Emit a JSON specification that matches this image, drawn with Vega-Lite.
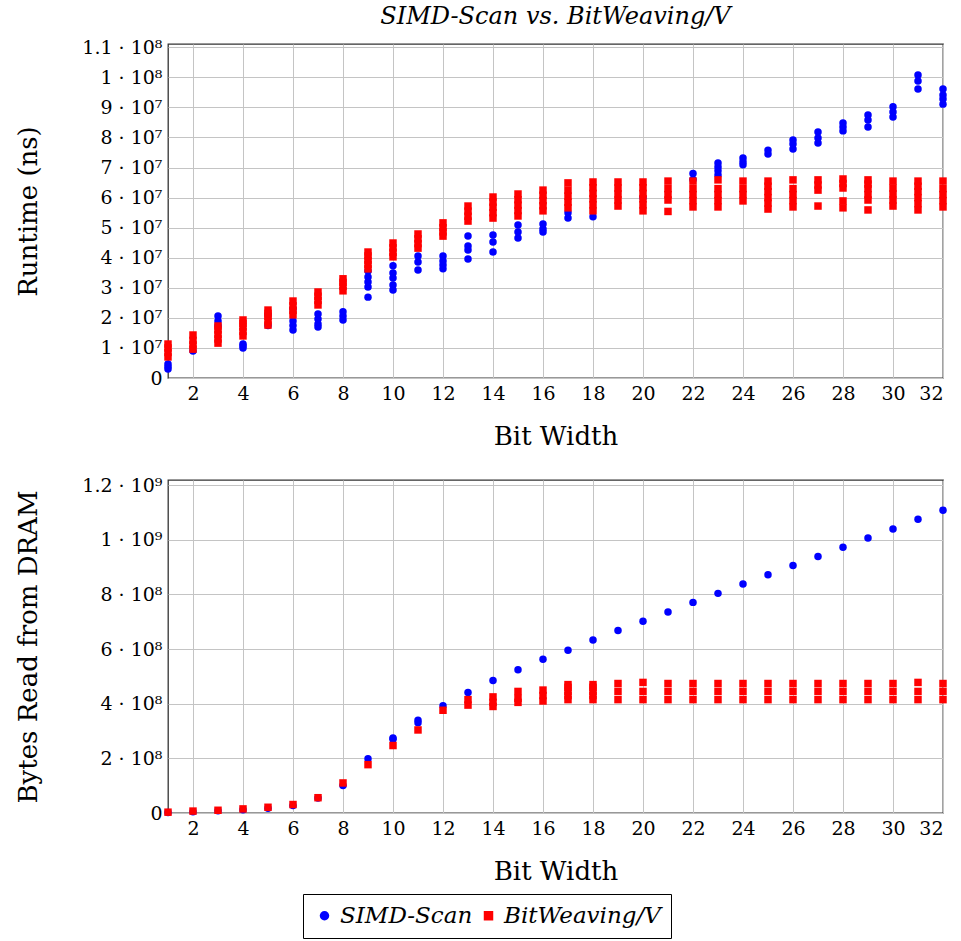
{
  "$schema": "https://vega.github.io/schema/vega-lite/v6.json",
  "background": "white",
  "padding": {"left": 15, "top": 4, "right": 10, "bottom": 0},
  "config": {
    "font": "DejaVu Serif",
    "view": {"stroke": "#333333", "strokeWidth": 1.3},
    "axis": {
      "labelFont": "DejaVu Serif",
      "titleFont": "DejaVu Serif",
      "labelFontSize": 19,
      "titleFontSize": 26,
      "titleFontWeight": "normal",
      "labelColor": "black",
      "titleColor": "black",
      "gridColor": "#c4c4c4",
      "gridWidth": 1,
      "domain": false,
      "ticks": false
    },
    "legend": {
      "labelFont": "DejaVu Serif",
      "labelFontSize": 23,
      "labelFontStyle": "italic",
      "labelColor": "black"
    }
  },
  "datasets": {
    "runtime": [
      {"bw": 1, "method": "SIMD-Scan", "ns": 3.0e6}, {"bw": 1, "method": "SIMD-Scan", "ns": 3.8e6}, {"bw": 1, "method": "SIMD-Scan", "ns": 4.7e6},
      {"bw": 2, "method": "SIMD-Scan", "ns": 9.0e6},
      {"bw": 3, "method": "SIMD-Scan", "ns": 1.75e7}, {"bw": 3, "method": "SIMD-Scan", "ns": 1.9e7}, {"bw": 3, "method": "SIMD-Scan", "ns": 2.06e7},
      {"bw": 4, "method": "SIMD-Scan", "ns": 1.0e7}, {"bw": 4, "method": "SIMD-Scan", "ns": 1.07e7}, {"bw": 4, "method": "SIMD-Scan", "ns": 1.13e7},
      {"bw": 5, "method": "SIMD-Scan", "ns": 1.75e7}, {"bw": 5, "method": "SIMD-Scan", "ns": 2.1e7},
      {"bw": 6, "method": "SIMD-Scan", "ns": 1.6e7}, {"bw": 6, "method": "SIMD-Scan", "ns": 1.75e7}, {"bw": 6, "method": "SIMD-Scan", "ns": 1.9e7}, {"bw": 6, "method": "SIMD-Scan", "ns": 2.3e7},
      {"bw": 7, "method": "SIMD-Scan", "ns": 1.7e7}, {"bw": 7, "method": "SIMD-Scan", "ns": 1.8e7}, {"bw": 7, "method": "SIMD-Scan", "ns": 1.96e7}, {"bw": 7, "method": "SIMD-Scan", "ns": 2.13e7},
      {"bw": 8, "method": "SIMD-Scan", "ns": 1.93e7}, {"bw": 8, "method": "SIMD-Scan", "ns": 2.06e7}, {"bw": 8, "method": "SIMD-Scan", "ns": 2.2e7},
      {"bw": 9, "method": "SIMD-Scan", "ns": 2.69e7}, {"bw": 9, "method": "SIMD-Scan", "ns": 3.03e7}, {"bw": 9, "method": "SIMD-Scan", "ns": 3.19e7}, {"bw": 9, "method": "SIMD-Scan", "ns": 3.36e7}, {"bw": 9, "method": "SIMD-Scan", "ns": 3.56e7},
      {"bw": 10, "method": "SIMD-Scan", "ns": 2.93e7}, {"bw": 10, "method": "SIMD-Scan", "ns": 3.09e7}, {"bw": 10, "method": "SIMD-Scan", "ns": 3.33e7}, {"bw": 10, "method": "SIMD-Scan", "ns": 3.49e7}, {"bw": 10, "method": "SIMD-Scan", "ns": 3.73e7},
      {"bw": 11, "method": "SIMD-Scan", "ns": 3.59e7}, {"bw": 11, "method": "SIMD-Scan", "ns": 3.86e7}, {"bw": 11, "method": "SIMD-Scan", "ns": 4.06e7},
      {"bw": 12, "method": "SIMD-Scan", "ns": 3.63e7}, {"bw": 12, "method": "SIMD-Scan", "ns": 3.76e7}, {"bw": 12, "method": "SIMD-Scan", "ns": 3.89e7}, {"bw": 12, "method": "SIMD-Scan", "ns": 4.06e7},
      {"bw": 13, "method": "SIMD-Scan", "ns": 3.96e7}, {"bw": 13, "method": "SIMD-Scan", "ns": 4.26e7}, {"bw": 13, "method": "SIMD-Scan", "ns": 4.39e7}, {"bw": 13, "method": "SIMD-Scan", "ns": 4.72e7},
      {"bw": 14, "method": "SIMD-Scan", "ns": 4.19e7}, {"bw": 14, "method": "SIMD-Scan", "ns": 4.52e7}, {"bw": 14, "method": "SIMD-Scan", "ns": 4.76e7},
      {"bw": 15, "method": "SIMD-Scan", "ns": 4.66e7}, {"bw": 15, "method": "SIMD-Scan", "ns": 4.86e7}, {"bw": 15, "method": "SIMD-Scan", "ns": 5.09e7},
      {"bw": 16, "method": "SIMD-Scan", "ns": 4.86e7}, {"bw": 16, "method": "SIMD-Scan", "ns": 4.96e7}, {"bw": 16, "method": "SIMD-Scan", "ns": 5.12e7},
      {"bw": 17, "method": "SIMD-Scan", "ns": 5.32e7}, {"bw": 17, "method": "SIMD-Scan", "ns": 5.5e7},
      {"bw": 18, "method": "SIMD-Scan", "ns": 5.36e7},
      {"bw": 20, "method": "SIMD-Scan", "ns": 6.0e7},
      {"bw": 22, "method": "SIMD-Scan", "ns": 6.6e7}, {"bw": 22, "method": "SIMD-Scan", "ns": 6.8e7},
      {"bw": 23, "method": "SIMD-Scan", "ns": 6.75e7}, {"bw": 23, "method": "SIMD-Scan", "ns": 6.89e7}, {"bw": 23, "method": "SIMD-Scan", "ns": 7.02e7}, {"bw": 23, "method": "SIMD-Scan", "ns": 7.15e7},
      {"bw": 24, "method": "SIMD-Scan", "ns": 7.09e7}, {"bw": 24, "method": "SIMD-Scan", "ns": 7.19e7}, {"bw": 24, "method": "SIMD-Scan", "ns": 7.32e7},
      {"bw": 25, "method": "SIMD-Scan", "ns": 7.45e7}, {"bw": 25, "method": "SIMD-Scan", "ns": 7.58e7},
      {"bw": 26, "method": "SIMD-Scan", "ns": 7.62e7}, {"bw": 26, "method": "SIMD-Scan", "ns": 7.78e7}, {"bw": 26, "method": "SIMD-Scan", "ns": 7.92e7},
      {"bw": 27, "method": "SIMD-Scan", "ns": 7.82e7}, {"bw": 27, "method": "SIMD-Scan", "ns": 7.98e7}, {"bw": 27, "method": "SIMD-Scan", "ns": 8.18e7},
      {"bw": 28, "method": "SIMD-Scan", "ns": 8.22e7}, {"bw": 28, "method": "SIMD-Scan", "ns": 8.35e7}, {"bw": 28, "method": "SIMD-Scan", "ns": 8.48e7},
      {"bw": 29, "method": "SIMD-Scan", "ns": 8.35e7}, {"bw": 29, "method": "SIMD-Scan", "ns": 8.58e7}, {"bw": 29, "method": "SIMD-Scan", "ns": 8.75e7},
      {"bw": 30, "method": "SIMD-Scan", "ns": 8.68e7}, {"bw": 30, "method": "SIMD-Scan", "ns": 8.85e7}, {"bw": 30, "method": "SIMD-Scan", "ns": 9.02e7},
      {"bw": 31, "method": "SIMD-Scan", "ns": 9.61e7}, {"bw": 31, "method": "SIMD-Scan", "ns": 9.88e7}, {"bw": 31, "method": "SIMD-Scan", "ns": 1.008e8},
      {"bw": 32, "method": "SIMD-Scan", "ns": 9.11e7}, {"bw": 32, "method": "SIMD-Scan", "ns": 9.28e7}, {"bw": 32, "method": "SIMD-Scan", "ns": 9.41e7}, {"bw": 32, "method": "SIMD-Scan", "ns": 9.61e7},

      {"bw": 1, "method": "BitWeaving/V", "ns": 7.0e6}, {"bw": 1, "method": "BitWeaving/V", "ns": 8.5e6}, {"bw": 1, "method": "BitWeaving/V", "ns": 1.0e7}, {"bw": 1, "method": "BitWeaving/V", "ns": 1.13e7},
      {"bw": 2, "method": "BitWeaving/V", "ns": 9.6e6}, {"bw": 2, "method": "BitWeaving/V", "ns": 1.1e7}, {"bw": 2, "method": "BitWeaving/V", "ns": 1.25e7}, {"bw": 2, "method": "BitWeaving/V", "ns": 1.43e7},
      {"bw": 3, "method": "BitWeaving/V", "ns": 1.16e7}, {"bw": 3, "method": "BitWeaving/V", "ns": 1.3e7}, {"bw": 3, "method": "BitWeaving/V", "ns": 1.45e7}, {"bw": 3, "method": "BitWeaving/V", "ns": 1.6e7}, {"bw": 3, "method": "BitWeaving/V", "ns": 1.73e7},
      {"bw": 4, "method": "BitWeaving/V", "ns": 1.4e7}, {"bw": 4, "method": "BitWeaving/V", "ns": 1.55e7}, {"bw": 4, "method": "BitWeaving/V", "ns": 1.7e7}, {"bw": 4, "method": "BitWeaving/V", "ns": 1.82e7}, {"bw": 4, "method": "BitWeaving/V", "ns": 1.93e7},
      {"bw": 5, "method": "BitWeaving/V", "ns": 1.76e7}, {"bw": 5, "method": "BitWeaving/V", "ns": 1.9e7}, {"bw": 5, "method": "BitWeaving/V", "ns": 2.05e7}, {"bw": 5, "method": "BitWeaving/V", "ns": 2.15e7}, {"bw": 5, "method": "BitWeaving/V", "ns": 2.26e7},
      {"bw": 6, "method": "BitWeaving/V", "ns": 2.1e7}, {"bw": 6, "method": "BitWeaving/V", "ns": 2.25e7}, {"bw": 6, "method": "BitWeaving/V", "ns": 2.4e7}, {"bw": 6, "method": "BitWeaving/V", "ns": 2.56e7},
      {"bw": 7, "method": "BitWeaving/V", "ns": 2.43e7}, {"bw": 7, "method": "BitWeaving/V", "ns": 2.58e7}, {"bw": 7, "method": "BitWeaving/V", "ns": 2.72e7}, {"bw": 7, "method": "BitWeaving/V", "ns": 2.86e7},
      {"bw": 8, "method": "BitWeaving/V", "ns": 2.9e7}, {"bw": 8, "method": "BitWeaving/V", "ns": 3.05e7}, {"bw": 8, "method": "BitWeaving/V", "ns": 3.18e7}, {"bw": 8, "method": "BitWeaving/V", "ns": 3.3e7},
      {"bw": 9, "method": "BitWeaving/V", "ns": 3.63e7}, {"bw": 9, "method": "BitWeaving/V", "ns": 3.78e7}, {"bw": 9, "method": "BitWeaving/V", "ns": 3.92e7}, {"bw": 9, "method": "BitWeaving/V", "ns": 4.06e7}, {"bw": 9, "method": "BitWeaving/V", "ns": 4.19e7},
      {"bw": 10, "method": "BitWeaving/V", "ns": 4.03e7}, {"bw": 10, "method": "BitWeaving/V", "ns": 4.18e7}, {"bw": 10, "method": "BitWeaving/V", "ns": 4.33e7}, {"bw": 10, "method": "BitWeaving/V", "ns": 4.49e7},
      {"bw": 11, "method": "BitWeaving/V", "ns": 4.32e7}, {"bw": 11, "method": "BitWeaving/V", "ns": 4.47e7}, {"bw": 11, "method": "BitWeaving/V", "ns": 4.63e7}, {"bw": 11, "method": "BitWeaving/V", "ns": 4.79e7},
      {"bw": 12, "method": "BitWeaving/V", "ns": 4.72e7}, {"bw": 12, "method": "BitWeaving/V", "ns": 4.86e7}, {"bw": 12, "method": "BitWeaving/V", "ns": 5.0e7}, {"bw": 12, "method": "BitWeaving/V", "ns": 5.16e7},
      {"bw": 13, "method": "BitWeaving/V", "ns": 5.22e7}, {"bw": 13, "method": "BitWeaving/V", "ns": 5.38e7}, {"bw": 13, "method": "BitWeaving/V", "ns": 5.55e7}, {"bw": 13, "method": "BitWeaving/V", "ns": 5.72e7},
      {"bw": 14, "method": "BitWeaving/V", "ns": 5.32e7}, {"bw": 14, "method": "BitWeaving/V", "ns": 5.5e7}, {"bw": 14, "method": "BitWeaving/V", "ns": 5.68e7}, {"bw": 14, "method": "BitWeaving/V", "ns": 5.85e7}, {"bw": 14, "method": "BitWeaving/V", "ns": 6.02e7},
      {"bw": 15, "method": "BitWeaving/V", "ns": 5.39e7}, {"bw": 15, "method": "BitWeaving/V", "ns": 5.57e7}, {"bw": 15, "method": "BitWeaving/V", "ns": 5.75e7}, {"bw": 15, "method": "BitWeaving/V", "ns": 5.93e7}, {"bw": 15, "method": "BitWeaving/V", "ns": 6.12e7},
      {"bw": 16, "method": "BitWeaving/V", "ns": 5.56e7}, {"bw": 16, "method": "BitWeaving/V", "ns": 5.73e7}, {"bw": 16, "method": "BitWeaving/V", "ns": 5.9e7}, {"bw": 16, "method": "BitWeaving/V", "ns": 6.08e7}, {"bw": 16, "method": "BitWeaving/V", "ns": 6.25e7},
      {"bw": 17, "method": "BitWeaving/V", "ns": 5.66e7}, {"bw": 17, "method": "BitWeaving/V", "ns": 5.85e7}, {"bw": 17, "method": "BitWeaving/V", "ns": 6.05e7}, {"bw": 17, "method": "BitWeaving/V", "ns": 6.25e7}, {"bw": 17, "method": "BitWeaving/V", "ns": 6.49e7},
      {"bw": 18, "method": "BitWeaving/V", "ns": 5.56e7}, {"bw": 18, "method": "BitWeaving/V", "ns": 5.76e7}, {"bw": 18, "method": "BitWeaving/V", "ns": 5.96e7}, {"bw": 18, "method": "BitWeaving/V", "ns": 6.14e7}, {"bw": 18, "method": "BitWeaving/V", "ns": 6.33e7}, {"bw": 18, "method": "BitWeaving/V", "ns": 6.52e7},
      {"bw": 19, "method": "BitWeaving/V", "ns": 5.72e7}, {"bw": 19, "method": "BitWeaving/V", "ns": 5.92e7}, {"bw": 19, "method": "BitWeaving/V", "ns": 6.12e7}, {"bw": 19, "method": "BitWeaving/V", "ns": 6.32e7}, {"bw": 19, "method": "BitWeaving/V", "ns": 6.52e7},
      {"bw": 20, "method": "BitWeaving/V", "ns": 5.56e7}, {"bw": 20, "method": "BitWeaving/V", "ns": 5.76e7}, {"bw": 20, "method": "BitWeaving/V", "ns": 5.96e7}, {"bw": 20, "method": "BitWeaving/V", "ns": 6.14e7}, {"bw": 20, "method": "BitWeaving/V", "ns": 6.33e7}, {"bw": 20, "method": "BitWeaving/V", "ns": 6.52e7},
      {"bw": 21, "method": "BitWeaving/V", "ns": 5.54e7}, {"bw": 21, "method": "BitWeaving/V", "ns": 5.92e7}, {"bw": 21, "method": "BitWeaving/V", "ns": 6.1e7}, {"bw": 21, "method": "BitWeaving/V", "ns": 6.3e7}, {"bw": 21, "method": "BitWeaving/V", "ns": 6.55e7},
      {"bw": 22, "method": "BitWeaving/V", "ns": 5.69e7}, {"bw": 22, "method": "BitWeaving/V", "ns": 5.9e7}, {"bw": 22, "method": "BitWeaving/V", "ns": 6.1e7}, {"bw": 22, "method": "BitWeaving/V", "ns": 6.3e7}, {"bw": 22, "method": "BitWeaving/V", "ns": 6.55e7},
      {"bw": 23, "method": "BitWeaving/V", "ns": 5.69e7}, {"bw": 23, "method": "BitWeaving/V", "ns": 5.9e7}, {"bw": 23, "method": "BitWeaving/V", "ns": 6.1e7}, {"bw": 23, "method": "BitWeaving/V", "ns": 6.3e7}, {"bw": 23, "method": "BitWeaving/V", "ns": 6.59e7},
      {"bw": 24, "method": "BitWeaving/V", "ns": 5.89e7}, {"bw": 24, "method": "BitWeaving/V", "ns": 6.1e7}, {"bw": 24, "method": "BitWeaving/V", "ns": 6.3e7}, {"bw": 24, "method": "BitWeaving/V", "ns": 6.55e7},
      {"bw": 25, "method": "BitWeaving/V", "ns": 5.62e7}, {"bw": 25, "method": "BitWeaving/V", "ns": 5.82e7}, {"bw": 25, "method": "BitWeaving/V", "ns": 6.0e7}, {"bw": 25, "method": "BitWeaving/V", "ns": 6.2e7}, {"bw": 25, "method": "BitWeaving/V", "ns": 6.38e7}, {"bw": 25, "method": "BitWeaving/V", "ns": 6.55e7},
      {"bw": 26, "method": "BitWeaving/V", "ns": 5.69e7}, {"bw": 26, "method": "BitWeaving/V", "ns": 5.9e7}, {"bw": 26, "method": "BitWeaving/V", "ns": 6.1e7}, {"bw": 26, "method": "BitWeaving/V", "ns": 6.3e7}, {"bw": 26, "method": "BitWeaving/V", "ns": 6.59e7},
      {"bw": 27, "method": "BitWeaving/V", "ns": 5.72e7}, {"bw": 27, "method": "BitWeaving/V", "ns": 6.25e7}, {"bw": 27, "method": "BitWeaving/V", "ns": 6.42e7}, {"bw": 27, "method": "BitWeaving/V", "ns": 6.59e7},
      {"bw": 28, "method": "BitWeaving/V", "ns": 5.66e7}, {"bw": 28, "method": "BitWeaving/V", "ns": 5.89e7}, {"bw": 28, "method": "BitWeaving/V", "ns": 6.32e7}, {"bw": 28, "method": "BitWeaving/V", "ns": 6.47e7}, {"bw": 28, "method": "BitWeaving/V", "ns": 6.62e7},
      {"bw": 29, "method": "BitWeaving/V", "ns": 5.59e7}, {"bw": 29, "method": "BitWeaving/V", "ns": 5.92e7}, {"bw": 29, "method": "BitWeaving/V", "ns": 6.1e7}, {"bw": 29, "method": "BitWeaving/V", "ns": 6.3e7}, {"bw": 29, "method": "BitWeaving/V", "ns": 6.45e7}, {"bw": 29, "method": "BitWeaving/V", "ns": 6.59e7},
      {"bw": 30, "method": "BitWeaving/V", "ns": 5.72e7}, {"bw": 30, "method": "BitWeaving/V", "ns": 5.92e7}, {"bw": 30, "method": "BitWeaving/V", "ns": 6.12e7}, {"bw": 30, "method": "BitWeaving/V", "ns": 6.32e7}, {"bw": 30, "method": "BitWeaving/V", "ns": 6.55e7},
      {"bw": 31, "method": "BitWeaving/V", "ns": 5.59e7}, {"bw": 31, "method": "BitWeaving/V", "ns": 5.8e7}, {"bw": 31, "method": "BitWeaving/V", "ns": 6.0e7}, {"bw": 31, "method": "BitWeaving/V", "ns": 6.2e7}, {"bw": 31, "method": "BitWeaving/V", "ns": 6.38e7}, {"bw": 31, "method": "BitWeaving/V", "ns": 6.55e7},
      {"bw": 32, "method": "BitWeaving/V", "ns": 5.69e7}, {"bw": 32, "method": "BitWeaving/V", "ns": 5.9e7}, {"bw": 32, "method": "BitWeaving/V", "ns": 6.1e7}, {"bw": 32, "method": "BitWeaving/V", "ns": 6.3e7}, {"bw": 32, "method": "BitWeaving/V", "ns": 6.55e7}
    ],
    "dram": [
      {"bw": 1, "method": "SIMD-Scan", "bytes": 2e6}, {"bw": 2, "method": "SIMD-Scan", "bytes": 5e6}, {"bw": 3, "method": "SIMD-Scan", "bytes": 8e6}, {"bw": 4, "method": "SIMD-Scan", "bytes": 1.2e7},
      {"bw": 5, "method": "SIMD-Scan", "bytes": 1.7e7}, {"bw": 6, "method": "SIMD-Scan", "bytes": 2.7e7}, {"bw": 7, "method": "SIMD-Scan", "bytes": 5.5e7}, {"bw": 8, "method": "SIMD-Scan", "bytes": 1.01e8},
      {"bw": 9, "method": "SIMD-Scan", "bytes": 1.99e8}, {"bw": 10, "method": "SIMD-Scan", "bytes": 2.7e8}, {"bw": 10, "method": "SIMD-Scan", "bytes": 2.75e8},
      {"bw": 11, "method": "SIMD-Scan", "bytes": 3.3e8}, {"bw": 11, "method": "SIMD-Scan", "bytes": 3.4e8}, {"bw": 12, "method": "SIMD-Scan", "bytes": 3.93e8},
      {"bw": 13, "method": "SIMD-Scan", "bytes": 4.41e8}, {"bw": 14, "method": "SIMD-Scan", "bytes": 4.85e8}, {"bw": 15, "method": "SIMD-Scan", "bytes": 5.24e8}, {"bw": 16, "method": "SIMD-Scan", "bytes": 5.63e8},
      {"bw": 17, "method": "SIMD-Scan", "bytes": 5.96e8}, {"bw": 18, "method": "SIMD-Scan", "bytes": 6.33e8}, {"bw": 19, "method": "SIMD-Scan", "bytes": 6.68e8}, {"bw": 20, "method": "SIMD-Scan", "bytes": 7.02e8},
      {"bw": 21, "method": "SIMD-Scan", "bytes": 7.36e8}, {"bw": 22, "method": "SIMD-Scan", "bytes": 7.71e8}, {"bw": 23, "method": "SIMD-Scan", "bytes": 8.04e8}, {"bw": 24, "method": "SIMD-Scan", "bytes": 8.38e8},
      {"bw": 25, "method": "SIMD-Scan", "bytes": 8.72e8}, {"bw": 26, "method": "SIMD-Scan", "bytes": 9.06e8}, {"bw": 27, "method": "SIMD-Scan", "bytes": 9.39e8}, {"bw": 28, "method": "SIMD-Scan", "bytes": 9.73e8},
      {"bw": 29, "method": "SIMD-Scan", "bytes": 1.007e9}, {"bw": 30, "method": "SIMD-Scan", "bytes": 1.04e9}, {"bw": 31, "method": "SIMD-Scan", "bytes": 1.075e9}, {"bw": 32, "method": "SIMD-Scan", "bytes": 1.108e9},

      {"bw": 1, "method": "BitWeaving/V", "bytes": 3e6}, {"bw": 2, "method": "BitWeaving/V", "bytes": 7e6}, {"bw": 3, "method": "BitWeaving/V", "bytes": 1.0e7}, {"bw": 4, "method": "BitWeaving/V", "bytes": 1.5e7},
      {"bw": 5, "method": "BitWeaving/V", "bytes": 2.1e7}, {"bw": 6, "method": "BitWeaving/V", "bytes": 3.1e7}, {"bw": 7, "method": "BitWeaving/V", "bytes": 5.6e7}, {"bw": 8, "method": "BitWeaving/V", "bytes": 1.1e8},
      {"bw": 9, "method": "BitWeaving/V", "bytes": 1.77e8}, {"bw": 10, "method": "BitWeaving/V", "bytes": 2.47e8}, {"bw": 11, "method": "BitWeaving/V", "bytes": 3.04e8}, {"bw": 12, "method": "BitWeaving/V", "bytes": 3.76e8},
      {"bw": 13, "method": "BitWeaving/V", "bytes": 3.95e8}, {"bw": 13, "method": "BitWeaving/V", "bytes": 4.15e8},
      {"bw": 14, "method": "BitWeaving/V", "bytes": 3.9e8}, {"bw": 14, "method": "BitWeaving/V", "bytes": 4.05e8}, {"bw": 14, "method": "BitWeaving/V", "bytes": 4.25e8},
      {"bw": 15, "method": "BitWeaving/V", "bytes": 4.05e8}, {"bw": 15, "method": "BitWeaving/V", "bytes": 4.2e8}, {"bw": 15, "method": "BitWeaving/V", "bytes": 4.45e8},
      {"bw": 16, "method": "BitWeaving/V", "bytes": 4.1e8}, {"bw": 16, "method": "BitWeaving/V", "bytes": 4.3e8}, {"bw": 16, "method": "BitWeaving/V", "bytes": 4.5e8},
      {"bw": 17, "method": "BitWeaving/V", "bytes": 4.15e8}, {"bw": 17, "method": "BitWeaving/V", "bytes": 4.3e8}, {"bw": 17, "method": "BitWeaving/V", "bytes": 4.45e8}, {"bw": 17, "method": "BitWeaving/V", "bytes": 4.6e8}, {"bw": 17, "method": "BitWeaving/V", "bytes": 4.7e8},
      {"bw": 18, "method": "BitWeaving/V", "bytes": 4.15e8}, {"bw": 18, "method": "BitWeaving/V", "bytes": 4.3e8}, {"bw": 18, "method": "BitWeaving/V", "bytes": 4.45e8}, {"bw": 18, "method": "BitWeaving/V", "bytes": 4.6e8}, {"bw": 18, "method": "BitWeaving/V", "bytes": 4.7e8},
      {"bw": 19, "method": "BitWeaving/V", "bytes": 4.15e8}, {"bw": 19, "method": "BitWeaving/V", "bytes": 4.45e8}, {"bw": 19, "method": "BitWeaving/V", "bytes": 4.74e8},
      {"bw": 20, "method": "BitWeaving/V", "bytes": 4.15e8}, {"bw": 20, "method": "BitWeaving/V", "bytes": 4.45e8}, {"bw": 20, "method": "BitWeaving/V", "bytes": 4.78e8},
      {"bw": 21, "method": "BitWeaving/V", "bytes": 4.15e8}, {"bw": 21, "method": "BitWeaving/V", "bytes": 4.45e8}, {"bw": 21, "method": "BitWeaving/V", "bytes": 4.74e8},
      {"bw": 22, "method": "BitWeaving/V", "bytes": 4.15e8}, {"bw": 22, "method": "BitWeaving/V", "bytes": 4.45e8}, {"bw": 22, "method": "BitWeaving/V", "bytes": 4.74e8},
      {"bw": 23, "method": "BitWeaving/V", "bytes": 4.15e8}, {"bw": 23, "method": "BitWeaving/V", "bytes": 4.45e8}, {"bw": 23, "method": "BitWeaving/V", "bytes": 4.74e8},
      {"bw": 24, "method": "BitWeaving/V", "bytes": 4.15e8}, {"bw": 24, "method": "BitWeaving/V", "bytes": 4.45e8}, {"bw": 24, "method": "BitWeaving/V", "bytes": 4.74e8},
      {"bw": 25, "method": "BitWeaving/V", "bytes": 4.15e8}, {"bw": 25, "method": "BitWeaving/V", "bytes": 4.45e8}, {"bw": 25, "method": "BitWeaving/V", "bytes": 4.74e8},
      {"bw": 26, "method": "BitWeaving/V", "bytes": 4.15e8}, {"bw": 26, "method": "BitWeaving/V", "bytes": 4.45e8}, {"bw": 26, "method": "BitWeaving/V", "bytes": 4.74e8},
      {"bw": 27, "method": "BitWeaving/V", "bytes": 4.15e8}, {"bw": 27, "method": "BitWeaving/V", "bytes": 4.45e8}, {"bw": 27, "method": "BitWeaving/V", "bytes": 4.74e8},
      {"bw": 28, "method": "BitWeaving/V", "bytes": 4.15e8}, {"bw": 28, "method": "BitWeaving/V", "bytes": 4.45e8}, {"bw": 28, "method": "BitWeaving/V", "bytes": 4.74e8},
      {"bw": 29, "method": "BitWeaving/V", "bytes": 4.15e8}, {"bw": 29, "method": "BitWeaving/V", "bytes": 4.45e8}, {"bw": 29, "method": "BitWeaving/V", "bytes": 4.74e8},
      {"bw": 30, "method": "BitWeaving/V", "bytes": 4.15e8}, {"bw": 30, "method": "BitWeaving/V", "bytes": 4.45e8}, {"bw": 30, "method": "BitWeaving/V", "bytes": 4.74e8},
      {"bw": 31, "method": "BitWeaving/V", "bytes": 4.15e8}, {"bw": 31, "method": "BitWeaving/V", "bytes": 4.45e8}, {"bw": 31, "method": "BitWeaving/V", "bytes": 4.78e8},
      {"bw": 32, "method": "BitWeaving/V", "bytes": 4.15e8}, {"bw": 32, "method": "BitWeaving/V", "bytes": 4.45e8}, {"bw": 32, "method": "BitWeaving/V", "bytes": 4.74e8}
    ]
  },
  "spacing": 25,
  "resolve": {"scale": {"color": "shared", "shape": "shared"}},
  "vconcat": [
    {
      "width": 775,
      "height": 334,
      "title": {"text": "SIMD-Scan vs. BitWeaving/V", "fontSize": 24, "fontStyle": "italic", "fontWeight": "normal", "font": "DejaVu Serif", "color": "black", "offset": 9},
      "data": {"name": "runtime"},
      "mark": {"type": "point", "filled": true, "size": 56, "opacity": 1},
      "encoding": {
        "x": {"field": "bw", "type": "quantitative", "scale": {"domain": [1, 32], "nice": false, "zero": false},
          "axis": {"title": "Bit Width", "values": [2, 4, 6, 8, 10, 12, 14, 16, 18, 20, 22, 24, 26, 28, 30, 32], "labelPadding": 6, "titlePadding": 20}},
        "y": {"field": "ns", "type": "quantitative", "scale": {"domain": [0, 111100000], "nice": false},
          "axis": {"title": "Runtime (ns)", "values": [0, 10000000, 20000000, 30000000, 40000000, 50000000, 60000000, 70000000, 80000000, 90000000, 100000000, 110000000], "labelPadding": 6, "titlePadding": 40,
            "labelExpr": "datum.value == 0 ? '0' : format(datum.value / pow(10, floor(log(datum.value) / LN10 + 1e-9)), '.2~f') + ' · 10' + ['⁰','¹','²','³','⁴','⁵','⁶','⁷','⁸','⁹'][floor(log(datum.value) / LN10 + 1e-9)]"}},
        "color": {"field": "method", "type": "nominal", "scale": {"domain": ["SIMD-Scan", "BitWeaving/V"], "range": ["#0000ff", "#ff0000"]},
          "legend": {"title": null, "orient": "none", "legendX": 135, "legendY": 850, "direction": "horizontal", "strokeColor": "black", "padding": 10, "symbolSize": 90, "columnPadding": 4, "labelOffset": 4}},
        "shape": {"field": "method", "type": "nominal", "scale": {"domain": ["SIMD-Scan", "BitWeaving/V"], "range": ["circle", "square"]}, "legend": null},
        "order": {"field": "method", "sort": "descending"}
      }
    },
    {
      "width": 775,
      "height": 333,
      "data": {"name": "dram"},
      "mark": {"type": "point", "filled": true, "size": 56, "opacity": 1},
      "encoding": {
        "x": {"field": "bw", "type": "quantitative", "scale": {"domain": [1, 32], "nice": false, "zero": false},
          "axis": {"title": "Bit Width", "values": [2, 4, 6, 8, 10, 12, 14, 16, 18, 20, 22, 24, 26, 28, 30, 32], "labelPadding": 6, "titlePadding": 20}},
        "y": {"field": "bytes", "type": "quantitative", "scale": {"domain": [0, 1219000000], "nice": false},
          "axis": {"title": "Bytes Read from DRAM", "values": [0, 200000000, 400000000, 600000000, 800000000, 1000000000, 1200000000], "labelPadding": 6, "titlePadding": 40,
            "labelExpr": "datum.value == 0 ? '0' : format(datum.value / pow(10, floor(log(datum.value) / LN10 + 1e-9)), '.2~f') + ' · 10' + ['⁰','¹','²','³','⁴','⁵','⁶','⁷','⁸','⁹'][floor(log(datum.value) / LN10 + 1e-9)]"}},
        "color": {"field": "method", "type": "nominal", "scale": {"domain": ["SIMD-Scan", "BitWeaving/V"], "range": ["#0000ff", "#ff0000"]}},
        "shape": {"field": "method", "type": "nominal", "scale": {"domain": ["SIMD-Scan", "BitWeaving/V"], "range": ["circle", "square"]}, "legend": null},
        "order": {"field": "method", "sort": "descending"}
      }
    }
  ]
}
